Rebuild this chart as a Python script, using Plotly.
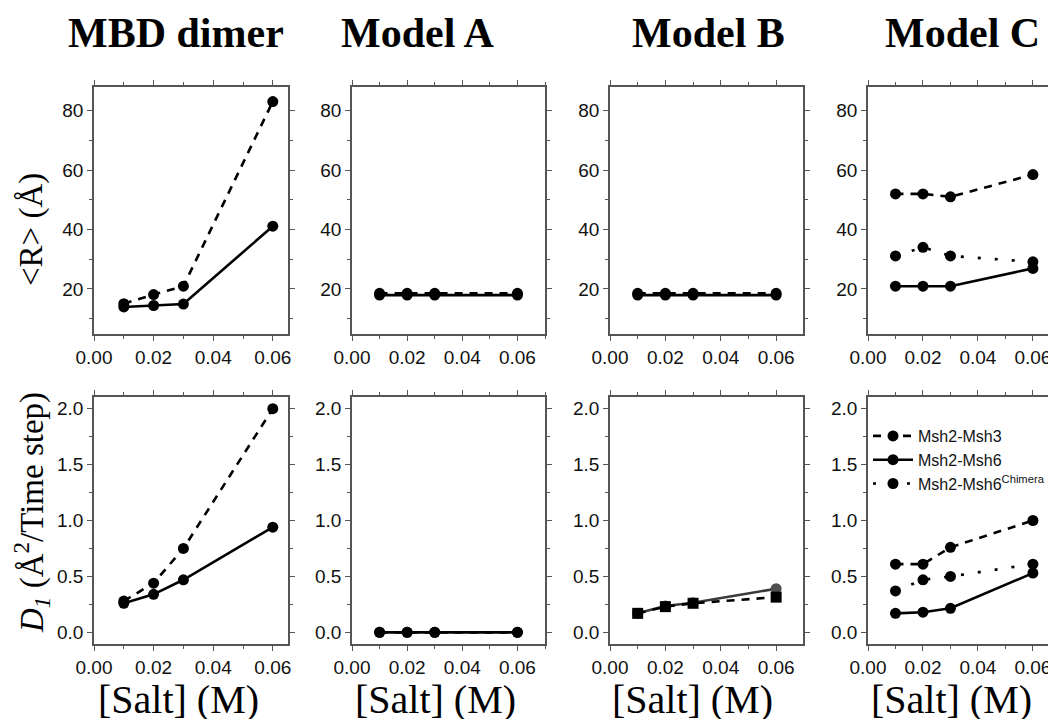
import plotly.graph_objects as go

salt = [0.01, 0.02, 0.03, 0.06]

panel_titles = ["MBD dimer", "Model A", "Model B", "Model C"]
series_names = ["Msh2-Msh3", "Msh2-Msh6", "Msh2-Msh6<sup>Chimera</sup>"]

# <R> (Angstrom)
mbd_R_msh3 = [15.0, 18.1, 20.9, 83.1]
mbd_R_msh6 = [13.9, 14.4, 14.9, 41.1]
modelA_R_msh3 = [18.5, 18.5, 18.5, 18.5]
modelA_R_msh6 = [17.9, 17.9, 17.9, 17.9]
modelB_R_msh3 = [18.5, 18.5, 18.5, 18.5]
modelB_R_msh6 = [17.9, 17.9, 17.9, 17.9]
modelC_R_msh3 = [52.0, 52.0, 51.0, 58.5]
modelC_R_msh6 = [20.9, 20.9, 20.9, 26.9]
modelC_R_chim = [31.1, 34.0, 31.1, 29.1]

# D1 (A^2 / time step)
mbd_D_msh3 = [0.28, 0.44, 0.75, 2.0]
mbd_D_msh6 = [0.26, 0.34, 0.47, 0.94]
modelA_D_msh3 = [0.0, 0.0, 0.0, 0.0]
modelA_D_msh6 = [0.0, 0.0, 0.0, 0.0]
modelB_D_msh3 = [0.17, 0.23, 0.26, 0.315]
modelB_D_msh6 = [0.17, 0.235, 0.265, 0.39]
modelC_D_msh3 = [0.61, 0.61, 0.76, 1.0]
modelC_D_msh6 = [0.17, 0.18, 0.215, 0.53]
modelC_D_chim = [0.37, 0.47, 0.50, 0.61]

# the page body adds an 8px margin; the figure is sized to fill the rest of the window
OFF = 8
W, H = 1056 - OFF, 719 - OFF

def fx(px):
    return (px - OFF) / W

def fy(px):
    return 1 - (px - OFF) / H

col_px = [(94, 288), (352, 545), (610, 803), (868, 1056)]
row_px = [(87, 334), (397, 644)]
x_ranges = [[0, 0.0651], [0, 0.07], [0, 0.0697], [0, 0.0684]]
y_ranges = [[4.8, 88], [-0.104, 2.104]]

TICKFONT = dict(family="Arial, Liberation Sans, sans-serif", size=19, color="#111")
SERIF = "Times New Roman, Liberation Serif, serif"

DASH = "8px,7px"
DOT = "3px,14px"

fig = go.Figure()

def add(row, col, y, dash, name, color="black", symbol="circle", show=False, mcolor=None):
    idx = row * 4 + col + 1
    fig.add_trace(go.Scatter(
        x=salt, y=y, mode="lines+markers", name=name,
        line=dict(color=color, width=2.6, dash=dash),
        marker=dict(symbol=symbol, size=11, color=mcolor or color),
        xaxis="x" if idx == 1 else f"x{idx}",
        yaxis="y" if idx == 1 else f"y{idx}",
        showlegend=show,
    ))

# top row
add(0, 0, mbd_R_msh6, "solid", series_names[1])
add(0, 0, mbd_R_msh3, DASH, series_names[0])
add(0, 1, modelA_R_msh6, "solid", series_names[1])
add(0, 1, modelA_R_msh3, DASH, series_names[0])
add(0, 2, modelB_R_msh6, "solid", series_names[1])
add(0, 2, modelB_R_msh3, DASH, series_names[0])
add(0, 3, modelC_R_msh6, "solid", series_names[1])
add(0, 3, modelC_R_msh3, DASH, series_names[0])
add(0, 3, modelC_R_chim, DOT, series_names[2])
# bottom row
add(1, 0, mbd_D_msh6, "solid", series_names[1])
add(1, 0, mbd_D_msh3, DASH, series_names[0])
add(1, 1, modelA_D_msh6, "solid", series_names[1])
add(1, 1, modelA_D_msh3, DASH, series_names[0])
add(1, 2, modelB_D_msh6, "solid", series_names[1], color="#3a3a3a", mcolor="#505050")
add(1, 2, modelB_D_msh3, DASH, series_names[0], symbol="square")
add(1, 3, modelC_D_msh3, DASH, series_names[0], show=True)
add(1, 3, modelC_D_msh6, "solid", series_names[1], show=True)
add(1, 3, modelC_D_chim, DOT, series_names[2], show=True)

layout = dict(
    width=W, height=H, margin=dict(l=0, r=0, t=0, b=0, autoexpand=False),
    paper_bgcolor="white", plot_bgcolor="white",
    legend=dict(x=fx(868), y=fy(419), xanchor="left", yanchor="top",
                bgcolor="rgba(0,0,0,0)", font=dict(family="Arial, Liberation Sans, sans-serif", size=16, color="#111"),
                itemwidth=40, tracegroupgap=0, traceorder="normal"),
)

for r in range(2):
    for c in range(4):
        idx = r * 4 + c + 1
        xk = "xaxis" if idx == 1 else f"xaxis{idx}"
        yk = "yaxis" if idx == 1 else f"yaxis{idx}"
        xa = "x" if idx == 1 else f"x{idx}"
        ya = "y" if idx == 1 else f"y{idx}"
        x0, x1 = col_px[c]
        y0, y1 = row_px[r]
        common = dict(showline=True, linecolor="#555", linewidth=1.5, mirror="allticks",
                      ticks="outside", ticklen=5, tickwidth=1.3, tickcolor="#555",
                      showgrid=False, zeroline=False, tickfont=TICKFONT, fixedrange=True,
                      automargin=False)
        layout[xk] = dict(common, domain=[fx(x0), min(1.0, fx(x1))], range=x_ranges[c], anchor=ya,
                          tickvals=[0, 0.02, 0.04, 0.06], ticktext=["0.00", "0.02", "0.04", "0.06"],
                          minor=dict(dtick=0.01, tick0=0, ticks="outside", ticklen=3, tickcolor="#555"))
        if r == 0:
            yt = dict(tickvals=[20, 40, 60, 80],
                      minor=dict(dtick=10, tick0=0, ticks="outside", ticklen=3, tickcolor="#555"))
        else:
            yt = dict(tickvals=[0, 0.5, 1.0, 1.5, 2.0], ticktext=["0.0", "0.5", "1.0", "1.5", "2.0"],
                      minor=dict(dtick=0.25, tick0=0, ticks="outside", ticklen=3, tickcolor="#555"))
        layout[yk] = dict(common, domain=[fy(y1), fy(y0)], range=y_ranges[r], anchor=xa, **yt)

fig.update_layout(**layout)

ann = []
title_cx = [176, 417, 708, 962]
for cx, t in zip(title_cx, panel_titles):
    ann.append(dict(text=f"<b>{t}</b>", x=fx(cx), y=fy(33), xref="paper", yref="paper",
                    xanchor="center", yanchor="middle", showarrow=False,
                    font=dict(family=SERIF, size=42, color="black")))
salt_cx = [178, 435, 692, 951]
for cx in salt_cx:
    ann.append(dict(text="[Salt] (M)", x=fx(cx), y=fy(699), xref="paper", yref="paper",
                    xanchor="center", yanchor="middle", showarrow=False,
                    font=dict(family=SERIF, size=40, color="black")))
ann.append(dict(text="&lt;R&gt; (Å)", x=fx(32), y=fy(230), xref="paper", yref="paper",
                xanchor="center", yanchor="middle", showarrow=False, textangle=-90,
                font=dict(family=SERIF, size=33, color="black")))
ann.append(dict(text="<i>D<sub>1</sub></i> (Å<sup>2</sup>/Time step)", x=fx(32), y=fy(513),
                xref="paper", yref="paper", xanchor="center", yanchor="middle", showarrow=False,
                textangle=-90, font=dict(family=SERIF, size=33, color="black")))
fig.update_layout(annotations=ann)

fig.write_html("out.html")
